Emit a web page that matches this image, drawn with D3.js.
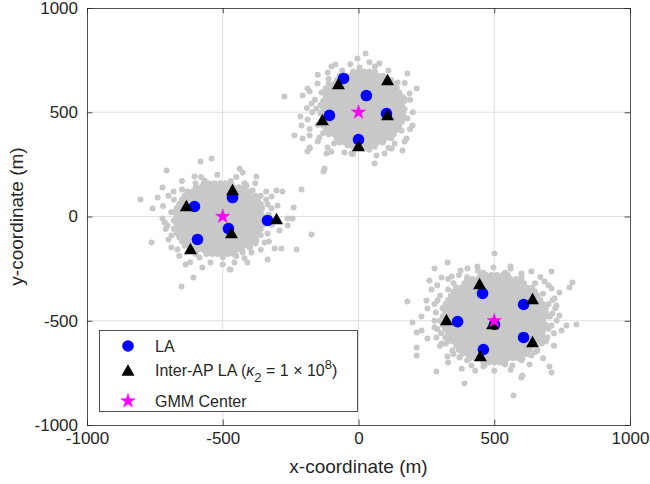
<!DOCTYPE html>
<html><head><meta charset="utf-8">
<script src="https://cdn.jsdelivr.net/npm/d3@7"></script>
<style>body{margin:0;background:#fff} text{font-family:"Liberation Sans",Arial,Helvetica,sans-serif;fill:#262626}</style>
</head><body><svg id="c" width="650" height="484"></svg>
<script>
// ---------- data ----------
const xTicks=[-1000,-500,0,500,1000];
const yTicks=[-1000,-500,0,500,1000];
const xLabel="x-coordinate (m)";
const yLabel="y-coordinate (m)";
// GMM centers
const gmmX=[0,-500,500];
const gmmY=[500,0,-500];
// LA positions
const laX=[-55,29,-107,103,0, -604,-464,-479,-593,-335, 457,608,365,501,608,460];
const laY=[662,580,485,494,369, 48,91,-58,-110,-19, -369,-422,-504,-518,-580,-638];
// Inter-AP LA positions
const triX=[-74,107,-133,107,0, -634,-464,-468,-619,-302, 446,641,324,494,641,449];
const triY=[638,657,465,489,340, 53,129,-77,-153,-10, -321,-393,-494,-513,-600,-667];
// user positions: dense cores as rows [y, x1, x2, ...]
const core1=[
[335,-20,0,20,40,60],
[355,-70,-50,-30,-10,10,30,50,70,90],
[375,-80,-60,-40,-20,0,20,40,60,80,100,120],
[395,-110,-90,-70,-50,-30,-10,10,30,50,70,90,110,130],
[415,-120,-100,-80,-60,-40,-20,0,20,40,60,80,100,120,140],
[435,-130,-110,-90,-70,-50,-30,-10,10,30,50,70,90,110,130,150],
[455,-120,-100,-80,-60,-40,-20,0,20,40,60,80,100,120,140,160],
[475,-130,-110,-90,-70,-50,-30,-10,10,30,50,70,90,110,130,150,170],
[495,-140,-120,-100,-80,-60,-40,-20,0,20,40,60,80,100,120,140,160],
[515,-130,-110,-90,-70,-50,-30,-10,10,30,50,70,90,110,130,150,170],
[535,-140,-120,-100,-80,-60,-40,-20,0,20,40,60,80,100,120,140,160],
[555,-130,-110,-90,-70,-50,-30,-10,10,30,50,70,90,110,130,150,170],
[575,-120,-100,-80,-60,-40,-20,0,20,40,60,80,100,120,140,160],
[595,-130,-110,-90,-70,-50,-30,-10,10,30,50,70,90,110,130,150],
[615,-120,-100,-80,-60,-40,-20,0,20,40,60,80,100,120,140],
[635,-110,-90,-70,-50,-30,-10,10,30,50,70,90,110,130],
[655,-80,-60,-40,-20,0,20,40,60,80,100,120],
[675,-70,-50,-30,-10,10,30,50,70,90],
[695,-20,0,20,40,60]];
const core2=[
[-180,-560,-540,-520,-500,-480,-460],
[-160,-610,-590,-570,-550,-530,-510,-490,-470,-450,-430],
[-140,-620,-600,-580,-560,-540,-520,-500,-480,-460,-440,-420,-400],
[-120,-650,-630,-610,-590,-570,-550,-530,-510,-490,-470,-450,-430,-410,-390],
[-100,-660,-640,-620,-600,-580,-560,-540,-520,-500,-480,-460,-440,-420,-400,-380],
[-80,-670,-650,-630,-610,-590,-570,-550,-530,-510,-490,-470,-450,-430,-410,-390,-370],
[-60,-680,-660,-640,-620,-600,-580,-560,-540,-520,-500,-480,-460,-440,-420,-400,-380,-360],
[-40,-670,-650,-630,-610,-590,-570,-550,-530,-510,-490,-470,-450,-430,-410,-390,-370,-350],
[-20,-680,-660,-640,-620,-600,-580,-560,-540,-520,-500,-480,-460,-440,-420,-400,-380,-360],
[0,-670,-650,-630,-610,-590,-570,-550,-530,-510,-490,-470,-450,-430,-410,-390,-370,-350],
[20,-680,-660,-640,-620,-600,-580,-560,-540,-520,-500,-480,-460,-440,-420,-400,-380,-360],
[40,-670,-650,-630,-610,-590,-570,-550,-530,-510,-490,-470,-450,-430,-410,-390,-370],
[60,-660,-640,-620,-600,-580,-560,-540,-520,-500,-480,-460,-440,-420,-400,-380,-360],
[80,-650,-630,-610,-590,-570,-550,-530,-510,-490,-470,-450,-430,-410,-390,-370],
[100,-640,-620,-600,-580,-560,-540,-520,-500,-480,-460,-440,-420,-400,-380],
[120,-630,-610,-590,-570,-550,-530,-510,-490,-470,-450,-430,-410],
[140,-600,-580,-560,-540,-520,-500,-480,-460,-440,-420],
[160,-570,-550,-530,-510,-490,-470]];
const core3=[
[-700,460,480,500,520,540],
[-680,410,430,450,470,490,510,530,550,570,590],
[-660,380,400,420,440,460,480,500,520,540,560,580,600,620],
[-640,370,390,410,430,450,470,490,510,530,550,570,590,610,630],
[-620,360,380,400,420,440,460,480,500,520,540,560,580,600,620,640],
[-600,330,350,370,390,410,430,450,470,490,510,530,550,570,590,610,630,650,670],
[-580,320,340,360,380,400,420,440,460,480,500,520,540,560,580,600,620,640,660,680],
[-560,330,350,370,390,410,430,450,470,490,510,530,550,570,590,610,630,650,670],
[-540,320,340,360,380,400,420,440,460,480,500,520,540,560,580,600,620,640,660,680],
[-520,310,330,350,370,390,410,430,450,470,490,510,530,550,570,590,610,630,650,670,690],
[-500,320,340,360,380,400,420,440,460,480,500,520,540,560,580,600,620,640,660,680],
[-480,310,330,350,370,390,410,430,450,470,490,510,530,550,570,590,610,630,650,670,690],
[-460,320,340,360,380,400,420,440,460,480,500,520,540,560,580,600,620,640,660,680],
[-440,310,330,350,370,390,410,430,450,470,490,510,530,550,570,590,610,630,650,670,690],
[-420,320,340,360,380,400,420,440,460,480,500,520,540,560,580,600,620,640,660,680],
[-400,330,350,370,390,410,430,450,470,490,510,530,550,570,590,610,630,650,670],
[-380,340,360,380,400,420,440,460,480,500,520,540,560,580,600,620,640,660],
[-360,350,370,390,410,430,450,470,490,510,530,550,570,590,610,630,650],
[-340,360,380,400,420,440,460,480,500,520,540,560,580,600,620,640],
[-320,390,410,430,450,470,490,510,530,550,570,590,610],
[-300,400,420,440,460,480,500,520,540,560,580,600],
[-280,450,470,490,510,530,550]];
// scattered users around the cores [x, y]
const scatter1=[[-85,729],[-114,691],[-151,638],[-188,614],[-273,576],[-206,580],[-173,542],[-155,518],[-214,480],[-188,465],[-210,436],[-236,388],[-206,374],[-144,379],[-180,326],[-114,331],[-118,302],[-52,307],[-125,230],[-136,595],[-180,388],
[26,782],[-4,758],[77,734],[4,715],[180,686],[144,643],[214,614],[188,590],[169,566],[180,470],[199,436],[158,412],[177,374],[133,350],[162,317],[96,302],[66,293],[59,254],[122,326],[33,331],[-26,302],
[-160,560],[-170,500],[-150,440],[-130,400],[160,540],[165,500],[150,450],[140,620],[100,660],[-60,700],[-110,660],[60,720],[-40,340],[40,320],[-90,350],[120,380],
[-180,420],[-190,520],[-180,600],[-150,680],[-100,720],[-30,730],[40,740],[110,700],[170,640],[190,560],[200,500],[190,420],[170,360],[110,330],[-20,300],[-100,310],[-150,360]];
const scatter2=[[-541,278],[-582,264],[-707,221],[-604,192],[-567,173],[-722,139],[-681,120],[-803,82],[-740,91],[-759,38],[-667,38],[-722,-10],[-703,-43],[-714,-29],[-689,-91],[-659,-101],[-762,-125],[-689,-149],[-667,-158],[-560,-173],[-545,-221],[-586,-197],[-637,-230],[-575,-245],[-608,-293],[-652,-336],[-471,-254],[-534,-168],
[-180,331],[-188,312],[-438,230],[-427,211],[-376,192],[-129,216],[-412,149],[-390,125],[-302,125],[-280,120],[-210,129],[-320,96],[-298,53],[-239,43],[-335,58],[-261,-10],[-243,-10],[-261,-43],[-291,-67],[-173,-86],[-335,-82],[-346,-125],[-376,-115],[-309,-153],[-284,-153],[-228,-158],[-394,-173],[-427,-173],[-335,-206],[-409,-221],[-457,-221],[-475,-254],
[-360,100],[-340,80],[-355,40],[-330,10],[-345,-20],[-360,-90],[-380,-130],[-400,-150],[-450,-190],[-500,-195],[-600,-180],[-640,-140],[-680,-60],[-690,20],[-680,80],[-650,130],[-600,160],[-470,170],[-420,160],[-400,120],
[-700,100],[-720,50],[-710,-60],[-700,-110],[-660,-190],[-620,-220],[-500,-230],[-420,-200],[-360,-160],[-330,-120],[-320,-40],[-320,40],[-340,120],[-380,160],[-450,190],[-520,200],[-580,190],[-650,170]];
const scatter3=[[328,-221],[280,-249],[376,-259],[401,-249],[438,-240],[306,-293],[261,-307],[343,-288],[269,-350],[180,-408],[250,-403],[291,-403],[254,-441],[232,-480],[199,-508],[232,-547],[214,-556],[280,-532],[287,-580],[254,-585],[306,-609],[214,-628],[214,-667],[346,-643],[372,-676],[416,-715],[464,-715],[287,-743],[390,-801],[328,-671],
[501,-177],[497,-245],[560,-240],[711,-264],[600,-273],[637,-264],[685,-312],[788,-317],[777,-341],[740,-364],[711,-345],[722,-393],[729,-427],[714,-465],[740,-475],[711,-523],[766,-523],[803,-518],[748,-547],[678,-556],[696,-580],[674,-609],[637,-667],[659,-643],[604,-681],[703,-719],[711,-748],[604,-763],[600,-772],[567,-715],[538,-705],[571,-858],
[300,-380],[310,-440],[300,-500],[305,-560],[320,-610],[350,-660],[400,-690],[460,-720],[540,-710],[600,-690],[650,-650],[690,-600],[700,-540],[705,-480],[700,-420],[680,-370],[650,-320],[600,-290],[540,-270],[460,-270],[400,-290],[350,-320],[330,-350],[690,-460],[320,-470],
[290,-330],[280,-420],[285,-460],[280,-500],[290,-540],[300,-620],[330,-700],[380,-730],[430,-740],[500,-740],[560,-735],[630,-710],[680,-680],[720,-620],[720,-560],[730,-500],[725,-440],[715,-400],[700,-330],[670,-290],[560,-250],[440,-260],[370,-280],[330,-300]];

// ---------- build ----------
const users=[];
[core1,core2,core3].forEach(c=>c.forEach(r=>r.slice(1).forEach(xx=>users.push([xx,r[0]]))));
[scatter1,scatter2,scatter3].forEach(s=>s.forEach(p=>users.push(p)));

const L=87,R=630,T=8,B=425;
const svg=d3.select("#c");
const x=d3.scaleLinear().domain([-1000,1000]).range([L,R]);
const y=d3.scaleLinear().domain([-1000,1000]).range([B,T]);
const ink="#262626";

// grid
const grid=svg.append("g").attr("stroke","#dfdfdf").attr("stroke-width",1);
grid.selectAll(".gx").data(xTicks.slice(1,-1)).join("line").attr("x1",d=>x(d)).attr("x2",d=>x(d)).attr("y1",T).attr("y2",B);
grid.selectAll(".gy").data(yTicks.slice(1,-1)).join("line").attr("y1",d=>y(d)).attr("y2",d=>y(d)).attr("x1",L).attr("x2",R);

// users
svg.append("g").attr("fill","#c8c8c8").selectAll("circle").data(users).join("circle")
  .attr("cx",d=>x(d[0])).attr("cy",d=>y(d[1])).attr("r",3);

// LA
svg.append("g").attr("fill","#0000ff").selectAll("circle").data(laX.map((v,i)=>[v,laY[i]])).join("circle")
  .attr("cx",d=>x(d[0])).attr("cy",d=>y(d[1])).attr("r",5.8);

// Triangles
const triW=13,triH=11.5;
const triPath=(cx,cy)=>`M${cx},${cy-triH/2}L${cx+triW/2},${cy+triH/2}L${cx-triW/2},${cy+triH/2}Z`;
svg.append("g").attr("fill","#000").selectAll("path").data(triX.map((v,i)=>[v,triY[i]])).join("path")
  .attr("d",d=>triPath(x(d[0]),y(d[1])));

// Stars
const star=d3.symbol(d3.symbolStar,64)();
svg.append("g").attr("fill","#ff00ff").attr("stroke","#ff00ff").attr("stroke-width",0.5).selectAll("path").data(gmmX.map((v,i)=>[v,gmmY[i]])).join("path")
  .attr("d",star).attr("transform",d=>`translate(${x(d[0])},${y(d[1])})`);

// axes
const tk=5.4, fmt=d=>String(d);
function style(g){g.selectAll("path,line").attr("stroke",ink).attr("stroke-width",0.8);g.selectAll("text").attr("fill",ink).style("font-size","17px");}
svg.append("g").attr("transform",`translate(0,${B})`).call(d3.axisBottom(x).tickValues(xTicks).tickSize(-tk).tickSizeOuter(0).tickPadding(7).tickFormat(fmt)).call(style);
svg.append("g").attr("transform",`translate(${L},0)`).call(d3.axisLeft(y).tickValues(yTicks).tickSize(-tk).tickSizeOuter(0).tickPadding(9).tickFormat(fmt)).call(style);
svg.append("g").attr("transform",`translate(0,${T})`).call(d3.axisTop(x).tickValues(xTicks).tickSize(-tk).tickSizeOuter(0).tickFormat("")).call(style);
svg.append("g").attr("transform",`translate(${R},0)`).call(d3.axisRight(y).tickValues(yTicks).tickSize(-tk).tickSizeOuter(0).tickFormat("")).call(style);
svg.selectAll(".domain").attr("fill","none");

// axis labels
svg.append("text").attr("x",(L+R)/2).attr("y",473).attr("text-anchor","middle").style("font-size","19px").text(xLabel);
svg.append("text").attr("transform",`translate(23,${(T+B)/2}) rotate(-90)`).attr("text-anchor","middle").style("font-size","19px").text(yLabel);

// legend
const lg=svg.append("g");
lg.append("rect").attr("x",99.5).attr("y",330.5).attr("width",258).attr("height",81).attr("fill","#fff").attr("stroke",ink).attr("stroke-width",0.8);
const mx=128, tx=155, rows=[346,370,401];
lg.append("circle").attr("cx",mx).attr("cy",rows[0]).attr("r",5.8).attr("fill","#0000ff");
lg.append("path").attr("d",triPath(mx,rows[1])).attr("fill","#000");
lg.append("path").attr("d",star).attr("transform",`translate(${mx},${rows[2]})`).attr("fill","#ff00ff").attr("stroke","#ff00ff").attr("stroke-width",0.5);
const fs="16px";
lg.append("text").attr("x",tx).attr("y",rows[0]+5.7).style("font-size",fs).text("LA");
const t2=lg.append("text").attr("x",tx).attr("y",rows[1]+5.7).style("font-size",fs);
t2.append("tspan").text("Inter-AP LA (");
t2.append("tspan").attr("font-style","italic").text("κ");
t2.append("tspan").attr("dy",6).style("font-size","13px").text("2");
t2.append("tspan").attr("dy",-6).text(" = 1 × 10");
t2.append("tspan").attr("dy",-7).style("font-size","13px").text("8");
t2.append("tspan").attr("dy",7).text(")");
lg.append("text").attr("x",tx).attr("y",rows[2]+5.7).style("font-size",fs).text("GMM Center");
</script></body></html>
